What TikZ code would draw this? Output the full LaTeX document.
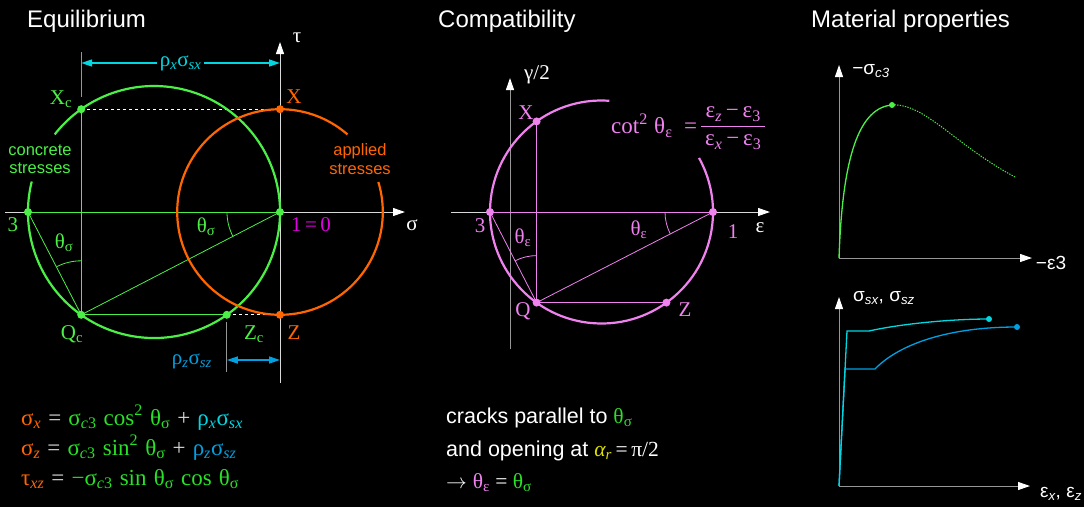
\documentclass[tikz,border=0pt]{standalone}
\usepackage{fontspec}
\setmainfont{Liberation Serif}
\setsansfont{Liberation Sans}
\usetikzlibrary{arrows.meta,positioning,calc}
\definecolor{concgreen}{RGB}{75,240,70}
\definecolor{eqgreen}{RGB}{40,225,40}
\definecolor{applorange}{RGB}{255,102,0}
\definecolor{rhocyan}{RGB}{0,215,225}
\definecolor{rhoblue}{RGB}{0,160,225}
\definecolor{strainpink}{RGB}{240,130,240}
\definecolor{polemag}{RGB}{225,0,225}
\definecolor{alphayellow}{RGB}{225,225,0}
\definecolor{axisgray}{RGB}{150,150,150}
\newcommand{\lo}[1]{\textsubscript{#1}}
\newcommand{\eqspacing}{\spaceskip=0.31em\relax}

\begin{document}
\begin{tikzpicture}[x=1pt, y=1pt,
  every node/.style={inner sep=1pt},
  ttl/.style={font=\sffamily\fontsize{24}{28}\selectfont, text=white, anchor=base west},
  lbl/.style={font=\fontsize{21}{24}\selectfont},
  note/.style={font=\sffamily\fontsize{16.5}{18.5}\selectfont, align=center},
  eqn/.style={font=\fontsize{23}{26}\selectfont\eqspacing, text=white!85!black, anchor=base west},
  txt/.style={font=\sffamily\fontsize{21.5}{25}\selectfont, text=white, anchor=base west},
  plotlbl/.style={font=\sffamily\fontsize{19}{22}\selectfont, text=white},
  mohr/.style={line width=2.2pt},
  fine/.style={line width=0.8pt},
  axisarr/.style={line width=1pt, -{Triangle[length=12pt, width=8pt, color=white]}},
  dimarr/.style={line width=1.4pt, {Triangle[length=11pt, width=7pt]}-{Triangle[length=11pt, width=7pt]}},
]
\fill[black] (0,0) rectangle (1084,-507);
\useasboundingbox (0,0) rectangle (1084,-507);

% Titles
\node[ttl] (ttlEq) at (26,-27) {Equilibrium};
\node[ttl] (ttlComp) at (437,-27) {Compatibility};
\node[ttl] (ttlMat) at (810,-27) {Material properties};

% ---------- Equilibrium: Mohr circles ----------
\coordinate (cc) at (154,-212);
\coordinate (O) at (280,-212);
\coordinate (P3) at (28,-212);
\coordinate (Xc) at (81.2,-109.2);
\coordinate (Qc) at (81.2,-314.8);
\coordinate (Zc) at (226.8,-314.8);
\coordinate (X) at (280,-109.2);
\coordinate (Z) at (280,-314.8);
\coordinate (sigL) at (5,-212);
\coordinate (sigR) at (405,-212);
\coordinate (tauB) at (280,-383);
\coordinate (tauT) at (280,-42);

% Axes
\draw[axisarr, white!85!black] (sigL) -- (sigR);
\draw[axisarr, white!85!black] (tauB) -- (tauT);
\node[lbl, text=white] (sigLbl) at (412,-225) {σ};
\node[lbl, text=white] (tauLbl) at (297,-38) {τ};

% Construction lines
\draw[fine, concgreen] (P3) -- (O);
\draw[fine, concgreen] (Xc) -- (Qc);
\draw[fine, concgreen] (Qc) -- (Zc);
\draw[fine, concgreen] (Qc) -- (O);
\draw[fine, concgreen] (Qc) -- (P3);
\draw[fine, white, dashed] (Xc) -- (X);
\draw[fine, white, dashed] (Zc) -- (Z);
\draw[fine, concgreen] (Qc) ++(90:54pt) arc[start angle=90, end angle=116.8, radius=54pt];
\draw[fine, concgreen] (O) ++(180:53pt) arc[start angle=180, end angle=207.2, radius=53pt];

% Circles
\draw[mohr, concgreen] (cc) ++(166:126pt) arc[start angle=166, end angle=502, radius=126pt];
\draw[mohr, applorange] (O) ++(49:102.8pt) arc[start angle=49, end angle=377, radius=102.8pt];

% Points
\foreach \p in {Xc,Qc,Zc,P3,O}
  \fill[concgreen] (\p) circle[radius=4pt];
\foreach \p in {X,Z}
  \fill[applorange] (\p) circle[radius=4pt];

% Labels
\node[lbl, text=concgreen] (XcLbl) at (61,-99) {X\lo{c}};
\node[lbl, text=applorange] (XLbl) at (294,-97) {X};
\node[lbl, text=concgreen] (P3Lbl) at (13,-225) {3};
\node[lbl, text=polemag] (OLbl) at (311,-225) {1\,=\,0};
\node[lbl, text=concgreen] (QcLbl) at (72,-334) {Q\lo{c}};
\node[lbl, text=concgreen] (ZcLbl) at (254,-334) {Z\lo{c}};
\node[lbl, text=applorange] (ZLbl) at (294,-333) {Z};
\node[lbl, text=concgreen] (thQ) at (64,-243) {θ\lo{σ}};
\node[lbl, text=concgreen] (thO) at (206,-227) {θ\lo{σ}};
\node[note, text=concgreen] (concNote) at (40,-159) {concrete\\stresses};
\node[note, text=applorange] (applNote) at (360,-159) {applied\\stresses};

% Reinforcement dimensions
\coordinate (tickXt) at (81.2,-52);
\coordinate (tickXb) at (81.2,-97);
\coordinate (dimXl) at (81.2,-63);
\coordinate (dimXr) at (280,-63);
\coordinate (tickZt) at (226.8,-322);
\coordinate (tickZb) at (226.8,-372);
\coordinate (dimZl) at (226.8,-360);
\coordinate (dimZr) at (280,-360);
\draw[line width=1pt, axisgray] (tickXt) -- (tickXb);
\draw[line width=1pt, axisgray] (tickZt) -- (tickZb);
\draw[dimarr, rhocyan] (dimXl) -- (dimXr)
  node[midway, lbl, fill=black, inner sep=3pt] (rxLbl) {ρ\lo{\itshape x}σ\lo{\itshape sx}};
\draw[dimarr, rhoblue] (dimZl) -- (dimZr);
\node[lbl, text=rhoblue, anchor=east] (rzLbl) at (213,-361) {ρ\lo{\itshape z}σ\lo{\itshape sz}};

% Equilibrium equations
\node[eqn] (eqx) at (20,-425) {\textcolor{applorange}{σ\lo{\itshape x}} = \textcolor{eqgreen}{σ\lo{\itshape c\upshape 3} cos\textsuperscript{2} θ\lo{σ}} + \textcolor{rhocyan}{ρ\lo{\itshape x}σ\lo{\itshape sx}}};
\node[eqn] (eqz) at (20,-455) {\textcolor{applorange}{σ\lo{\itshape z}} = \textcolor{eqgreen}{σ\lo{\itshape c\upshape 3} sin\textsuperscript{2} θ\lo{σ}} + \textcolor{rhoblue}{ρ\lo{\itshape z}σ\lo{\itshape sz}}};
\node[eqn] (eqxz) at (20,-485) {\textcolor{applorange}{τ\lo{\itshape xz}} = \textcolor{eqgreen}{−σ\lo{\itshape c\upshape 3} sin θ\lo{σ} cos θ\lo{σ}}};

% ---------- Compatibility: strain circle ----------
\coordinate (cm) at (601.5,-212);
\coordinate (M3) at (490,-212);
\coordinate (M1) at (713,-212);
\coordinate (MX) at (536.6,-121.4);
\coordinate (MQ) at (536.6,-302.6);
\coordinate (MZ) at (666.4,-302.6);
\coordinate (epsL) at (451,-212);
\coordinate (epsR) at (770,-212);
\coordinate (gamB) at (510,-349);
\coordinate (gamT) at (510,-78);

\draw[axisarr, white!85!black] (epsL) -- (epsR);
\draw[axisarr, axisgray] (gamB) -- (gamT);
\node[lbl, text=white] (epsLbl) at (760,-228) {ε};
\node[lbl, text=white] (gamLbl) at (537,-75) {γ/2};

\draw[fine, strainpink] (M3) -- (M1);
\draw[fine, strainpink] (MX) -- (MQ);
\draw[fine, strainpink] (MQ) -- (MZ);
\draw[fine, strainpink] (MQ) -- (M1);
\draw[fine, strainpink] (MQ) -- (M3);
\draw[fine, strainpink] (MQ) ++(90:47pt) arc[start angle=90, end angle=117.2, radius=47pt];
\draw[fine, strainpink] (M1) ++(180:48pt) arc[start angle=180, end angle=207.2, radius=48pt];
\draw[mohr, strainpink] (cm) ++(86:111.5pt) arc[start angle=86, end angle=389, radius=111.5pt];
\foreach \p in {M3,M1,MX,MQ,MZ}
  \fill[strainpink] (\p) circle[radius=4pt];

\node[lbl, text=strainpink] (MXLbl) at (526,-113) {X};
\node[lbl, text=strainpink] (M3Lbl) at (480,-226) {3};
\node[lbl, text=strainpink] (M1Lbl) at (733,-232) {1};
\node[lbl, text=strainpink] (MQLbl) at (523,-311) {Q};
\node[lbl, text=strainpink] (MZLbl) at (685,-310) {Z};
\node[lbl, text=strainpink] (thMQ) at (523,-238) {θ\lo{ε}};
\node[lbl, text=strainpink] (thM1) at (639,-230) {θ\lo{ε}};

% cot^2 relation
\node[lbl, font=\fontsize{23}{26}\selectfont, text=strainpink, anchor=west] (cotLhs) at (610,-126) {cot\textsuperscript{2}\;θ\lo{ε}\enspace=};
\node[lbl, font=\fontsize{23}{26}\selectfont, text=strainpink, right=2pt of cotLhs] (cotFrac)
  {\setlength{\arrayrulewidth}{1pt}\renewcommand{\arraystretch}{1.05}%
   \begin{tabular}{@{\,}c@{\,}}ε\lo{\itshape z}\,−\,ε\lo{3}\\\hline ε\lo{\itshape x}\,−\,ε\lo{3}\end{tabular}};

% Crack statement
\node[txt] (crk1) at (445,-423) {cracks parallel to \textcolor{eqgreen}{\rmfamily θ\lo{σ}}};
\node[txt] (crk2) at (445,-456) {and opening at \textcolor{alphayellow}{\rmfamily\itshape α\lo{r}}\rmfamily\,=\,π/2};
\node[txt] (crk3) at (445,-488) {$\rightarrow$ \rmfamily\textcolor{strainpink}{θ\lo{ε}} = \textcolor{eqgreen}{θ\lo{σ}}};

% ---------- Material properties ----------
\coordinate (A0) at (839,-258);
\coordinate (Ay) at (839,-65);
\coordinate (Ax) at (1032,-258);
\coordinate (Apk) at (892,-105);
\coordinate (Aend) at (1015,-177);
\draw[axisarr, axisgray] (A0) -- (Ay);
\draw[axisarr, axisgray] (A0) -- (Ax);
\draw[line width=1.3pt, concgreen] (A0) .. controls (842,-170) and (855,-108) .. (Apk);
\draw[line width=1pt, concgreen, dash pattern=on 1.3pt off 1.3pt] (Apk) .. controls (925,-103) and (955,-145) .. (Aend);
\fill[concgreen] (Apk) circle[radius=3pt];
\node[plotlbl] (sc3Lbl) at (871,-71) {−σ\lo{\itshape c3}};
\node[plotlbl] (e3Lbl) at (1051,-263) {−ε3};

\coordinate (B0) at (839,-486);
\coordinate (By) at (839,-297);
\coordinate (Bx) at (1030,-486);
\coordinate (cy1) at (847,-331);
\coordinate (cy2) at (869,-331);
\coordinate (cyEnd) at (989,-319);
\coordinate (bl1) at (845,-369);
\coordinate (bl2) at (875,-369);
\coordinate (blEnd) at (1017,-327);
\draw[axisarr, axisgray] (B0) -- (By);
\draw[axisarr, axisgray] (B0) -- (Bx);
\draw[line width=1.3pt, rhoblue] (B0) -- (bl1) -- (bl2) .. controls (895,-348) and (940,-327) .. (blEnd);
\draw[line width=1.3pt, rhocyan] (B0) -- (cy1) -- (cy2) .. controls (900,-324) and (950,-319) .. (cyEnd);
\fill[rhocyan] (cyEnd) circle[radius=3pt];
\fill[rhoblue] (blEnd) circle[radius=3pt];
\node[plotlbl] (ssLbl) at (884,-298) {σ\lo{\itshape sx}, σ\lo{\itshape sz}};
\node[plotlbl] (exLbl) at (1061,-494) {ε\lo{\itshape x}, ε\lo{\itshape z}};
\end{tikzpicture}
\end{document}
